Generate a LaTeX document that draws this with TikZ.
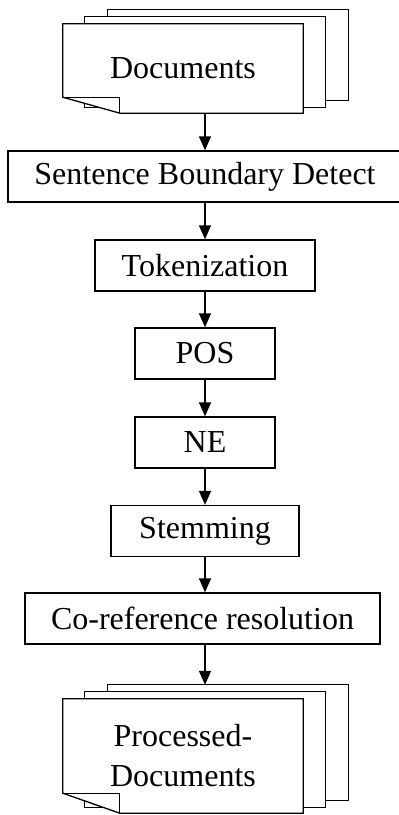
\documentclass[tikz,border=0pt]{standalone}
\usepackage{fontspec}
\setmainfont{Liberation Serif}
\usetikzlibrary{arrows.meta,backgrounds}

\tikzset{
  stepbox/.style={draw, line width=1.3pt, minimum height=51pt, inner sep=0pt},
  pagebox/.style={inner sep=0pt, minimum width=240pt},
  flow/.style={line width=1.3pt, -{Triangle[length=14pt,width=12pt]}},
}

% pila di fogli attorno a un nodo (#1 = nome, #2 = altezza piega)
\newcommand{\drawpages}[2]{%
  \begin{scope}[on background layer]
    \foreach \dx/\dy/\dr in {45/-14/-13, 22/-7/-6}{
      \draw[line width=1.3pt, fill=white]
        ([shift={(\dx,\dr)}]#1.south west) rectangle ([shift={(\dx,\dy)}]#1.north east);
    }
    \draw[line width=1.3pt, fill=white] (#1.north west) -- (#1.north east) -- (#1.south east)
      -- ([xshift=57pt]#1.south west) -- ([yshift=#2]#1.south west) -- cycle;
    \draw[line width=1.3pt] ([yshift=#2]#1.south west) -- ([xshift=57pt,yshift=#2]#1.south west)
      -- ([xshift=57pt]#1.south west);
  \end{scope}}

\begin{document}
\begin{tikzpicture}[x=1pt, y=-1pt, font=\fontsize{32}{40}\selectfont]
    \useasboundingbox (0,0) rectangle (399,815);

    % Documenti in ingresso
    \node[pagebox, minimum height=89pt] (docs) at (183,68.5) {Documents};
    \drawpages{docs}{16pt}

    % Passi di elaborazione
    \node[stepbox, minimum width=394pt] (sbd) at (205,176.5) {Sentence Boundary Detect\hspace{12pt}};
    \node[stepbox, minimum width=220pt] (tok) at (205,265.5) {Tokenization};
    \node[stepbox, minimum width=140pt] (pos) at (205,353.5) {POS};
    \node[stepbox, minimum width=140pt] (ne) at (205,442.5) {NE};
    \node[stepbox, minimum width=188pt] (stem) at (205,531) {Stemming\hspace{14pt}};
    \node[stepbox, minimum width=355pt] (coref) at (202.5,618.5) {Co-reference resolution};

    % Documenti elaborati
    \node[pagebox, minimum height=114pt, align=center] (proc) at (183,756) {Processed-\\Documents};
    \drawpages{proc}{20pt}

    % Frecce
    \draw[flow] (docs.south -| sbd.north) -- (sbd.north);
    \draw[flow] (sbd.south -| tok.north) -- (tok.north);
    \draw[flow] (tok) -- (pos);
    \draw[flow] (pos) -- (ne);
    \draw[flow] (ne) -- (stem);
    \draw[flow] (stem.south) -- (stem.south |- coref.north);
    \draw[flow] (stem.south |- coref.south) -- ([yshift=14pt]stem.south |- proc.north);
\end{tikzpicture}
\end{document}
